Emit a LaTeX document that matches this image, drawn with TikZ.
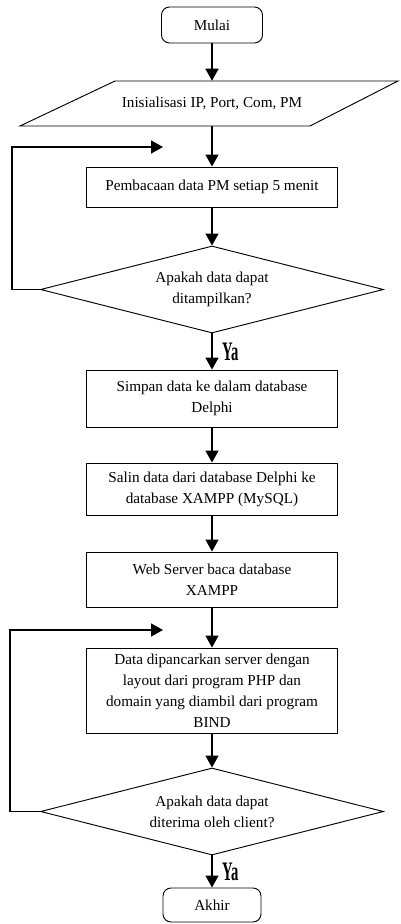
\documentclass[tikz,border=0pt]{standalone}
\usepackage{fontspec}
\setmainfont{Liberation Serif}
\usetikzlibrary{shapes.geometric,arrows.meta}

\begin{document}
\begin{tikzpicture}[x=0.75pt, y=-0.75pt,
    font=\fontsize{11.4}{15.75}\selectfont,
    box/.style={draw, line width=0.7pt, minimum width=188pt, align=center, inner sep=2pt},
    startstop/.style={draw, line width=0.7pt, rounded corners=6pt, align=center},
    decision/.style={draw, diamond, line width=0.7pt, aspect=3.94, inner sep=0pt,
        minimum width=257.25pt, minimum height=65.25pt, align=center},
    arr/.style={line width=1.2pt, -{Triangle[length=9pt, width=9.75pt]}},
    yes/.style={font=\fontsize{20}{20}\selectfont\bfseries, inner sep=7pt}]
    \useasboundingbox (0, 0) rectangle (400, 924);

    \node [startstop, minimum width=75.75pt, minimum height=27pt] (mulai) at (212, 25) {Mulai};
    \node [minimum height=33.75pt, inner sep=0pt] (init) at (212, 103.5) {Inisialisasi IP, Port, Com, PM};
    \draw [line width=0.7pt] (20, 126) -- (115, 81) -- (398, 81) -- (310, 126) -- cycle;
    \node [box, minimum height=30pt] (baca) at (212, 187) {Pembacaan data PM setiap 5 menit};
    \node [decision] (cek1) at (212, 289.5) {Apakah data dapat\\ditampilkan?};
    \node [box, minimum height=42.75pt] (simpan) at (212, 398.5) {Simpan data ke dalam database\\Delphi};
    \node [box, minimum height=39pt] (salin) at (212, 489) {Salin data dari database Delphi ke\\database XAMPP (MySQL)};
    \node [box, minimum height=41.25pt] (web) at (212, 579.5) {Web Server baca database\\XAMPP};
    \node [box, minimum height=63.75pt] (kirim) at (212, 690.5) {Data dipancarkan server dengan\\layout dari program PHP dan\\domain yang diambil dari program\\BIND};
    \node [decision] (cek2) at (212, 811.5) {Apakah data dapat\\diterima oleh client?};
    \node [startstop, minimum width=73.5pt, minimum height=25.5pt] (akhir) at (212, 905) {Akhir};

    \coordinate (balik1) at (163, 147);
    \coordinate (balik2) at (163, 630);

    \draw [arr] (mulai) -- (init.north);
    \draw [arr] (init.south) -- (baca);
    \draw [arr] (baca) -- (cek1);
    \draw [arr] (cek1) -- node [yes, right] {\scalebox{0.55}[1]{Ya}} (simpan);
    \draw [arr] (simpan) -- (salin);
    \draw [arr] (salin) -- (web);
    \draw [arr] (web) -- (kirim);
    \draw [arr] (kirim) -- (cek2);
    \draw [arr] (cek2) -- node [yes, right] {\scalebox{0.55}[1]{Ya}} (akhir);

    % kembali ke atas jika tidak
    \draw [arr] (cek1.west) -- (12, 289.5) -- (12, 147) -- (balik1);
    \draw [arr] (cek2.west) -- (10, 811.5) -- (10, 630) -- (balik2);
\end{tikzpicture}
\end{document}
